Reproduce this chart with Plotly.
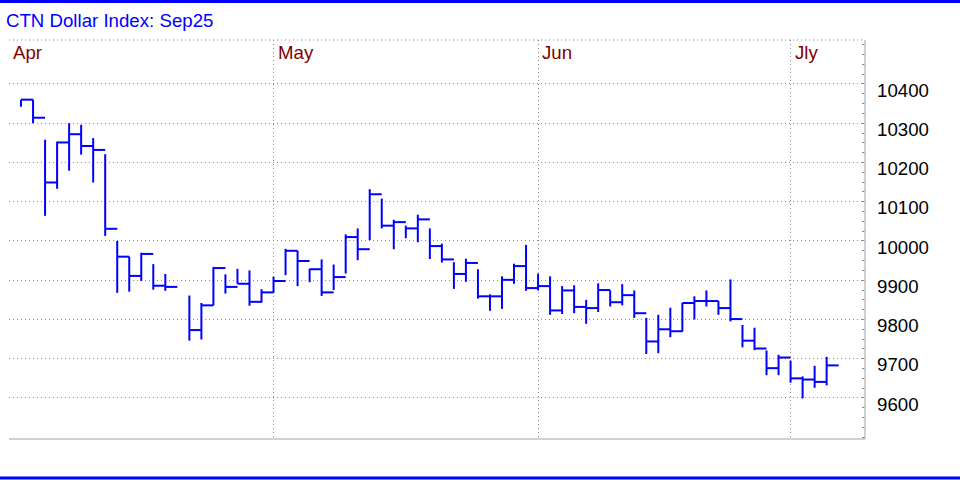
import numpy as np
import plotly.graph_objects as go

# ---- data ----
start_date = "2025-04-01"
dates = [
    "2025-04-01", "2025-04-02", "2025-04-03", "2025-04-04", "2025-04-07", "2025-04-08",
    "2025-04-09", "2025-04-10", "2025-04-11", "2025-04-14", "2025-04-15", "2025-04-16",
    "2025-04-17", "2025-04-21", "2025-04-22", "2025-04-23", "2025-04-24", "2025-04-25",
    "2025-04-28", "2025-04-29", "2025-04-30", "2025-05-01", "2025-05-02", "2025-05-05",
    "2025-05-06", "2025-05-07", "2025-05-08", "2025-05-09", "2025-05-12", "2025-05-13",
    "2025-05-14", "2025-05-15", "2025-05-16", "2025-05-19", "2025-05-20", "2025-05-21",
    "2025-05-22", "2025-05-23", "2025-05-26", "2025-05-27", "2025-05-28", "2025-05-29",
    "2025-05-30", "2025-06-02", "2025-06-03", "2025-06-04", "2025-06-05", "2025-06-06",
    "2025-06-09", "2025-06-10", "2025-06-11", "2025-06-12", "2025-06-13", "2025-06-16",
    "2025-06-17", "2025-06-18", "2025-06-19", "2025-06-20", "2025-06-23", "2025-06-24",
    "2025-06-25", "2025-06-26", "2025-06-27", "2025-06-30", "2025-07-01", "2025-07-02",
    "2025-07-03",
]
high = [
    10360, 10360, 10258, 10253, 10300, 10296, 10262, 10221, 10000, 9960, 9970, 9941,
    9916, 9861, 9842, 9934, 9915, 9929, 9925, 9877, 9909, 9980, 9975, 9929,
    9953, 9940, 10017, 10032, 10132, 10108, 10054, 10039, 10067, 10032, 9993, 9946,
    9955, 9928, 9864, 9910, 9942, 9990, 9917, 9910, 9885, 9887, 9850, 9892,
    9874, 9890, 9874, 9804, 9812, 9830, 9842, 9859, 9874, 9847, 9902, 9786,
    9779, 9721, 9710, 9695, 9655, 9682, 9705,
]
low = [
    10342, 10300, 10064, 10133, 10179, 10220, 10149, 10013, 9868, 9871, 9898, 9876,
    9873, 9746, 9749, 9836, 9866, 9891, 9835, 9843, 9868, 9913, 9885, 9895,
    9860, 9875, 9917, 9951, 10002, 10032, 9979, 10007, 9997, 9954, 9945, 9878,
    9896, 9853, 9822, 9827, 9891, 9873, 9874, 9812, 9814, 9816, 9789, 9819,
    9833, 9836, 9804, 9712, 9714, 9755, 9769, 9800, 9833, 9812, 9795, 9729,
    9722, 9658, 9658, 9639, 9599, 9626, 9632,
]
close = [
    10360, 10314, 10149, 10251, 10272, 10242, 10232, 10031, 9960, 9911, 9967, 9886,
    9883, 9773, 9836, 9931, 9883, 9891, 9845, 9869, 9898, 9975, 9949, 9928,
    9869, 9908, 10010, 9979, 10119, 10039, 10048, 10032, 10055, 9987, 9953, 9916,
    9944, 9859, 9859, 9901, 9936, 9880, 9885, 9823, 9874, 9832, 9829, 9875,
    9844, 9862, 9816, 9744, 9775, 9770, 9842, 9847, 9847, 9829, 9801, 9746,
    9726, 9676, 9703, 9650, 9647, 9641, 9683,
]
month_starts = ["2025-04-01", "2025-05-01", "2025-06-01", "2025-07-01"]
month_labels = ["Apr", "May", "Jun", "Jly"]
y_ticks = [9600, 9700, 9800, 9900, 10000, 10100, 10200, 10300, 10400]
title_text = "CTN Dollar Index: Sep25"

# ---- positions on a weekday scale ----
xi = np.busday_count(start_date, np.array(dates, dtype="datetime64[D]"))
month_x = np.busday_count(start_date, np.array(month_starts, dtype="datetime64[D]")) - 1

bx, by = [], []
for x, h, l, c in zip(xi, high, low, close):
    x = int(x)
    bx += [x, x, None, x, x + 1, None]
    by += [l, h, None, c, c, None]

FONT = "Liberation Sans, Arial, sans-serif"
GRID = "#8a8a8a"
BORDER = "#c0c0c0"

fig = go.Figure()
fig.add_trace(go.Scatter(x=bx, y=by, mode="lines",
                         line=dict(color="#0000ff", width=2),
                         hoverinfo="skip", showlegend=False))

shapes = [
    # top dotted border
    dict(type="line", xref="paper", yref="paper", x0=0, x1=1, y0=1, y1=1,
         line=dict(color=GRID, width=1, dash="1px,3px")),
    # right and bottom solid borders
    dict(type="line", xref="paper", yref="paper", x0=1, x1=1, y0=0, y1=1,
         line=dict(color=BORDER, width=1.5)),
    dict(type="line", xref="paper", yref="paper", x0=0, x1=1, y0=0, y1=0,
         line=dict(color=BORDER, width=1.5)),
    # outer blue rules
    dict(type="line", xref="paper", yref="paper", x0=-0.02, x1=1.2,
         y0=1 + 38.5 / 399, y1=1 + 38.5 / 399,
         line=dict(color="#0000ff", width=3)),
    dict(type="line", xref="paper", yref="paper", x0=-0.02, x1=1.2,
         y0=-39 / 399, y1=-39 / 399,
         line=dict(color="#0000ff", width=3)),
]

annotations = []
for mx, lab in zip(month_x, month_labels):
    annotations.append(dict(x=float(mx), y=1, xref="x", yref="paper",
                            xanchor="left", yanchor="top", text=lab,
                            showarrow=False, xshift=2, yshift=0,
                            font=dict(family=FONT, size=18.67, color="#800000")))

fig.update_layout(
    width=960, height=480,
    margin=dict(l=9, r=95, t=40, b=41),
    paper_bgcolor="white", plot_bgcolor="white",
    title=dict(text=title_text, x=6 / 960, xanchor="left", xref="container",
               y=1 - 20.8 / 480, yanchor="middle", yref="container",
               font=dict(family=FONT, size=18.67, color="#0000ff")),
    xaxis=dict(range=[-1, 70.19], tickmode="array", tickvals=month_x.tolist(),
               showticklabels=False, ticks="", showgrid=True, gridcolor=GRID,
               griddash="1px,3px", gridwidth=1, zeroline=False, showline=False),
    yaxis=dict(range=[9495.5, 10512], side="right", tickmode="array",
               tickvals=y_ticks, ticktext=[str(v) for v in y_ticks],
               showgrid=True, gridcolor=GRID, griddash="1px,3px", gridwidth=1,
               zeroline=False, showline=False, ticks="",
               ticklabelstandoff=11, ticklabelshift=6,
               tickfont=dict(family=FONT, size=18.67, color="black"),
               minor=dict(ticks="inside", ticklen=3, tickcolor=GRID, dtick=25,
                          tick0=0, showgrid=False)),
    shapes=shapes,
    annotations=annotations,
)

fig.write_html("out.html",
               config={"displayModeBar": False, "staticPlot": True},
               post_script="document.body.style.margin='0';document.body.style.overflow='hidden';")
